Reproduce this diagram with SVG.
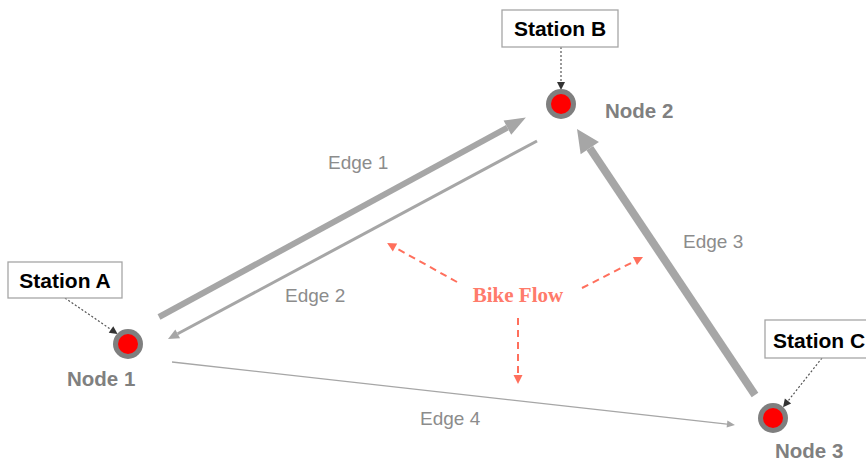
<svg xmlns="http://www.w3.org/2000/svg" width="866" height="459" viewBox="0 0 866 459">
<defs>
<style>
.station rect{fill:#fff;stroke:#a6a6a6;stroke-width:1.3}
.station text{font-family:"Liberation Sans",Arial,sans-serif;font-weight:bold;font-size:21px;fill:#000}
.ring{fill:#7f7f7f}
.core{fill:#f00}
.nlabel{font-family:"Liberation Sans",Arial,sans-serif;font-weight:bold;font-size:20.5px;fill:#808080}
.elabel{font-family:"Liberation Sans",Arial,sans-serif;font-size:19px;fill:#8c8c8c}
.edge{stroke:#a6a6a6;fill:none}
.dot{stroke:#555;stroke-width:1.2;stroke-dasharray:2 2;fill:none}
.flow{stroke:#ff6f5c;stroke-width:2;stroke-dasharray:7 5;fill:none}
.flowtext{font-family:"Liberation Serif","Times New Roman",serif;font-weight:bold;font-size:21px;fill:#ff7b6b}
</style>
<marker id="hBig" markerUnits="userSpaceOnUse" markerWidth="24" markerHeight="20" refX="0" refY="10" orient="auto" overflow="visible"><path d="M0,2 L21,10 L0,18 z" fill="#a6a6a6"/></marker>
<marker id="hBig3" markerUnits="userSpaceOnUse" markerWidth="26" markerHeight="24" refX="0" refY="12" orient="auto" overflow="visible"><path d="M0,1 L23,12 L0,23 z" fill="#a6a6a6"/></marker>
<marker id="hMid" markerUnits="userSpaceOnUse" markerWidth="12" markerHeight="12" refX="0" refY="6" orient="auto" overflow="visible"><path d="M0,1 L11,6 L0,11 z" fill="#a6a6a6"/></marker>
<marker id="hSmall" markerUnits="userSpaceOnUse" markerWidth="10" markerHeight="10" refX="0" refY="5" orient="auto" overflow="visible"><path d="M0,1.5 L8,5 L0,8.5 z" fill="#a6a6a6"/></marker>
<marker id="hDot" markerUnits="userSpaceOnUse" markerWidth="10" markerHeight="10" refX="0" refY="5" orient="auto" overflow="visible"><path d="M0,1 L8,5 L0,9 z" fill="#333"/></marker>
<marker id="hFlow" markerUnits="userSpaceOnUse" markerWidth="10" markerHeight="10" refX="0" refY="5" orient="auto" overflow="visible"><path d="M0,0.5 L9,5 L0,9.5 z" fill="#ff6f5c"/></marker>
</defs>
<rect width="866" height="459" fill="#fff"/>

<g id="connectors">
<path class="edge" stroke-width="6" d="M159,317 L507.4,127.6" marker-end="url(#hBig)"/>
<path class="edge" stroke-width="3" d="M537,141 L177.7,333.8" marker-end="url(#hMid)"/>
<path class="edge" stroke-width="8" d="M755,395 L589.8,148.1" marker-end="url(#hBig3)"/>
<path class="edge" stroke-width="1.3" d="M172,362 L727,424.1" marker-end="url(#hSmall)"/>
<path class="dot" d="M561,47 L561,82" marker-end="url(#hDot)"/>
<path class="dot" d="M65,298 L111,329.5" marker-end="url(#hDot)"/>
<path class="dot" d="M822,358 L788,401" marker-end="url(#hDot)"/>
<path class="flow" d="M457,282 L395,247.5" marker-end="url(#hFlow)"/>
<path class="flow" d="M582,288 L635,261" marker-end="url(#hFlow)"/>
<path class="flow" d="M518,318 L518,375" marker-end="url(#hFlow)"/>
</g>

<g id="node1"><circle class="ring" cx="128" cy="344" r="15"/><circle class="core" cx="128" cy="344" r="10"/><text class="nlabel" x="67" y="386">Node 1</text></g>
<g id="node2"><circle class="ring" cx="561" cy="104" r="15"/><circle class="core" cx="561" cy="104" r="10"/><text class="nlabel" x="605" y="118">Node 2</text></g>
<g id="node3"><circle class="ring" cx="773" cy="418" r="15"/><circle class="core" cx="773" cy="418" r="10"/><text class="nlabel" x="775" y="458">Node 3</text></g>

<g id="stationA" class="station"><rect x="8" y="262" width="114" height="36"/><text x="65" y="288" text-anchor="middle">Station A</text></g>
<g id="stationB" class="station"><rect x="502" y="10" width="116" height="37"/><text x="560" y="36" text-anchor="middle">Station B</text></g>
<g id="stationC" class="station"><rect x="765" y="320" width="110" height="38"/><text x="773" y="348">Station C</text></g>

<g id="labels">
<text class="elabel" x="328" y="169">Edge 1</text>
<text class="elabel" x="285" y="302">Edge 2</text>
<text class="elabel" x="683" y="248">Edge 3</text>
<text class="elabel" x="420" y="425">Edge 4</text>
<text class="flowtext" x="518" y="302" text-anchor="middle">Bike Flow</text>
</g>
</svg>
